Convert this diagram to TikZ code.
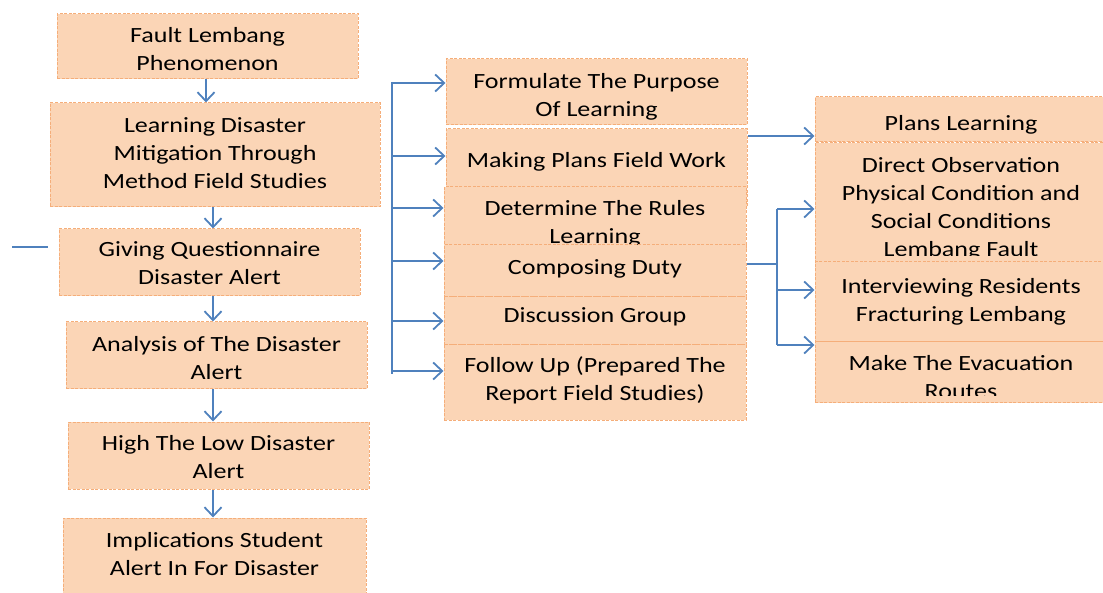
\documentclass[tikz,border=0pt]{standalone}
\usepackage{fontspec}
\setmainfont{Carlito}[FakeStretch=1.2]
\usetikzlibrary{arrows.meta}
\definecolor{boxfill}{HTML}{FBD5B6}
\definecolor{boxline}{HTML}{F5AE7A}
\definecolor{arrblue}{HTML}{4F81BD}
\newcommand\bx[2]{\raisebox{\dimexpr#1pt-2pt\relax}[\height][\depth]{\begin{tabular}{@{}c@{}}#2\end{tabular}}}
\begin{document}
\begin{tikzpicture}[x=1pt,y=-1pt,
  stepbox/.style={rectangle, fill=boxfill, draw=boxline, line width=1pt,
    dash pattern=on 3pt off 1.5pt, inner sep=0pt,
    font=\fontsize{21.7}{28}\selectfont, text=black},
  conn/.style={draw=arrblue, line width=1.8pt},
  arr/.style={conn, -{Straight Barb[length=9pt,width=17pt,line width=1.8pt]}}]
\useasboundingbox (0,0) rectangle (1103,593);

% left column
\node[stepbox, minimum width=301pt, minimum height=65pt] (F1) at (207.5,46.5) {\bx{-2}{Fault Lembang\\Phenomenon}};
\node[stepbox, minimum width=330pt, minimum height=104pt] (F2) at (215,155) {\bx{2.5}{Learning Disaster\\Mitigation Through\\Method Field Studies}};
\node[stepbox, minimum width=301pt, minimum height=67pt] (F3) at (209.5,262.5) {\bx{0}{Giving Questionnaire\\Disaster Alert}};
\node[stepbox, minimum width=301pt, minimum height=67pt] (F4) at (216.5,355.5) {\bx{-2}{Analysis of The Disaster\\Alert}};
\node[stepbox, minimum width=301pt, minimum height=67pt] (F5) at (218.5,455.5) {\bx{-1}{High\ The Low Disaster\\Alert}};
\node[stepbox, minimum width=303pt, minimum height=80pt] (F6) at (214.5,558) {\bx{4.5}{Implications Student\\Alert In For Disaster}};

\coordinate (x1) at (206,0);
\coordinate (x2) at (213,0);
\draw[arr] (x1 |- F1.south) -- (x1 |- F2.north);
\draw[arr] (x2 |- F2.south) -- (x2 |- F3.north);
\draw[arr] (x2 |- F3.south) -- (x2 |- F4.north);
\draw[arr] (x2 |- F4.south) -- (x2 |- F5.north);
\draw[arr] (x2 |- F5.south) -- (x2 |- F6.north);

\coordinate (q1) at (12,247);
\coordinate (q2) at (48,247);
\draw[conn] (q1) -- (q2);

% middle column
\node[stepbox, minimum width=301pt, minimum height=66pt] (M1) at (596.5,92) {\bx{-2.5}{Formulate The Purpose\\Of Learning}};
\node[stepbox, minimum width=301pt, minimum height=78pt] (M2) at (596.5,168) {\bx{8.5}{Making Plans Field Work}};
\node[stepbox, minimum width=302pt, minimum height=62pt] (M3) at (595,218) {\bx{-3.5}{Determine The Rules\\Learning}};
\node[stepbox, minimum width=302pt, minimum height=52pt] (M4) at (595,271) {\bx{4.5}{Composing Duty}};
\node[stepbox, minimum width=302pt, minimum height=48pt] (M5) at (595,321) {\bx{6.5}{Discussion Group}};
\node[stepbox, minimum width=302pt, minimum height=75pt] (M6) at (595,382.5) {\bx{4}{Follow Up (Prepared The\\Report Field Studies)}};

\coordinate (b0) at (392,82);
\coordinate (b1) at (392,83);
\coordinate (b2) at (392,156);
\coordinate (b3) at (392,208);
\coordinate (b4) at (392,261);
\coordinate (b5) at (392,321);
\coordinate (b6) at (392,371);
\coordinate (b7) at (392,374);
\draw[conn] (b0) -- (b7);
\draw[arr] (b1) -- (b1 -| M1.west);
\draw[arr] (b2) -- (b2 -| M2.west);
\draw[arr] (b3) -- (b3 -| M3.west);
\draw[arr] (b4) -- (b4 -| M4.west);
\draw[arr] (b5) -- (b5 -| M5.west);
\draw[arr] (b6) -- (b6 -| M6.west);

% right column
\node[stepbox, minimum width=292pt, minimum height=45pt] (R1) at (961,119.5) {\bx{-3}{Plans Learning}};
\node[stepbox, minimum width=292pt, minimum height=122pt] (R2) at (961,204) {\bx{-2.5}{Direct Observation\\Physical Condition and\\Social Conditions\\Lembang Fault}};
\coordinate (s1) at (816,256);
\coordinate (s2) at (1106,264);
\fill[boxfill] (s1) rectangle (s2);
\node[stepbox, minimum width=292pt, minimum height=80pt] (R3) at (961,302) {\bx{2.5}{Interviewing Residents\\Fracturing Lembang}};
\node[stepbox, minimum width=292pt, minimum height=61pt] (R4) at (961,372.5) {\bx{-4.5}{Make The Evacuation\\Routes}};
\coordinate (s3) at (816,396);
\coordinate (s4) at (1106,402.3);
\fill[boxfill] (s3) rectangle (s4);

\coordinate (c1) at (0,136);
\draw[arr] (c1 -| M2.east) -- (c1 -| R1.west);

\coordinate (d0) at (0,264);
\coordinate (dv) at (777,0);
\coordinate (d1) at (0,209);
\coordinate (d2) at (0,290);
\coordinate (d3) at (0,345);
\draw[conn] (d0 -| M4.east) -- (d0 -| dv);
\draw[conn] (dv |- d1) -- (dv |- d3);
\draw[arr] (dv |- d1) -- (d1 -| R2.west);
\draw[arr] (dv |- d2) -- (d2 -| R3.west);
\draw[arr] (dv |- d3) -- (d3 -| R4.west);
\end{tikzpicture}
\end{document}
